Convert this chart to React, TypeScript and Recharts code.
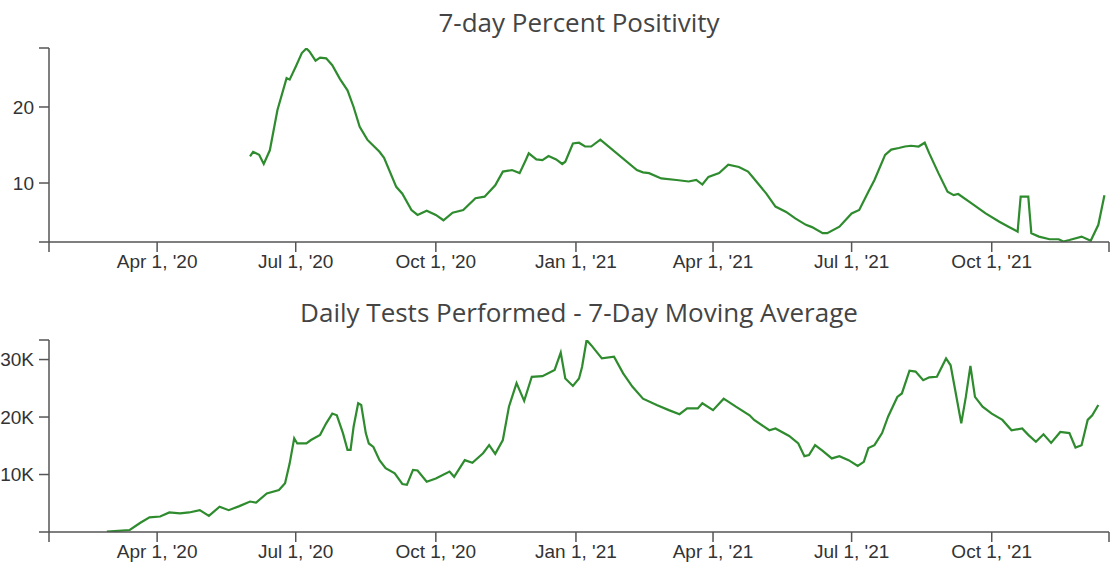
import React from 'react';
import { LineChart, Line, XAxis, YAxis } from 'recharts';

// ---- Data ----
const positivityDates = [
  '2020-06-01','2020-06-03','2020-06-07','2020-06-10','2020-06-14','2020-06-19','2020-06-25','2020-06-27',
  '2020-07-01','2020-07-05','2020-07-08','2020-07-10','2020-07-14','2020-07-17','2020-07-21','2020-07-25',
  '2020-07-30','2020-08-04','2020-08-08','2020-08-12','2020-08-17','2020-08-19','2020-08-25','2020-08-28',
  '2020-09-05','2020-09-09','2020-09-15','2020-09-19','2020-09-25','2020-10-01','2020-10-06','2020-10-12',
  '2020-10-19','2020-10-27','2020-11-02','2020-11-09','2020-11-14','2020-11-20','2020-11-25','2020-11-29',
  '2020-12-01','2020-12-06','2020-12-10','2020-12-14','2020-12-19','2020-12-23','2020-12-25','2020-12-30',
  '2021-01-03','2021-01-07','2021-01-11','2021-01-17','2021-02-10','2021-02-14','2021-02-18','2021-02-26',
  '2021-03-08','2021-03-16','2021-03-21','2021-03-25','2021-03-29','2021-04-05','2021-04-11','2021-04-18',
  '2021-04-24','2021-04-27','2021-05-06','2021-05-12','2021-05-19','2021-05-25','2021-06-01','2021-06-05',
  '2021-06-12','2021-06-15','2021-06-23','2021-07-01','2021-07-06','2021-07-12','2021-07-16','2021-07-23',
  '2021-07-27','2021-08-01','2021-08-05','2021-08-09','2021-08-14','2021-08-18','2021-08-21','2021-08-27',
  '2021-09-02','2021-09-06','2021-09-09','2021-09-18','2021-09-27','2021-10-06','2021-10-12','2021-10-18',
  '2021-10-20','2021-10-25','2021-10-27','2021-11-01','2021-11-08','2021-11-14','2021-11-17','2021-11-21',
  '2021-11-29','2021-12-05','2021-12-10','2021-12-14',
];
const positivityValues = [
  13.5, 14.1, 13.7, 12.5, 14.3, 19.6, 23.8, 23.6,
  25.3, 27.1, 27.7, 27.3, 26.1, 26.5, 26.4, 25.5,
  23.7, 22.2, 20.0, 17.4, 15.7, 15.3, 14.1, 13.3,
  9.5, 8.6, 6.45, 5.8, 6.35, 5.8, 5.1, 6.1,
  6.45, 8.0, 8.2, 9.7, 11.5, 11.7, 11.3, 13.0,
  13.9, 13.1, 13.0, 13.55, 13.1, 12.5, 12.8, 15.2,
  15.3, 14.8, 14.8, 15.7, 11.7, 11.4, 11.3, 10.6,
  10.4, 10.2, 10.4, 9.8, 10.8, 11.3, 12.4, 12.1,
  11.5, 10.8, 8.6, 6.9, 6.2, 5.35, 4.5, 4.2,
  3.4, 3.4, 4.25, 6.0, 6.45, 8.85, 10.4, 13.7,
  14.4, 14.6, 14.8, 14.9, 14.8, 15.3, 13.9, 11.3,
  8.85, 8.4, 8.55, 7.3, 6.0, 4.9, 4.25, 3.6,
  8.2, 8.2, 3.4, 2.95, 2.6, 2.6, 2.3, 2.5,
  2.95, 2.4, 4.5, 8.4,
];

const testDates = [
  '2020-02-28','2020-03-14','2020-03-21','2020-03-27','2020-04-03','2020-04-09','2020-04-16','2020-04-22',
  '2020-04-29','2020-05-05','2020-05-12','2020-05-18','2020-05-25','2020-06-01','2020-06-05','2020-06-12',
  '2020-06-20','2020-06-24','2020-06-27','2020-06-30','2020-07-02','2020-07-08','2020-07-11','2020-07-17',
  '2020-07-21','2020-07-25','2020-07-28','2020-08-01','2020-08-04','2020-08-06','2020-08-08','2020-08-11',
  '2020-08-13','2020-08-16','2020-08-18','2020-08-21','2020-08-25','2020-08-29','2020-09-04','2020-09-09',
  '2020-09-12','2020-09-16','2020-09-19','2020-09-25','2020-10-01','2020-10-10','2020-10-13','2020-10-20',
  '2020-10-25','2020-11-01','2020-11-05','2020-11-09','2020-11-14','2020-11-18','2020-11-23','2020-11-28',
  '2020-12-03','2020-12-10','2020-12-18','2020-12-22','2020-12-25','2020-12-30','2021-01-03','2021-01-05',
  '2021-01-08','2021-01-11','2021-01-18','2021-01-26','2021-02-01','2021-02-07','2021-02-14','2021-02-23',
  '2021-03-03','2021-03-10','2021-03-15','2021-03-22','2021-03-25','2021-04-01','2021-04-08','2021-04-16',
  '2021-04-25','2021-04-28','2021-05-08','2021-05-12','2021-05-21','2021-05-27','2021-05-31','2021-06-03',
  '2021-06-07','2021-06-12','2021-06-18','2021-06-23','2021-06-29','2021-07-05','2021-07-09','2021-07-12',
  '2021-07-16','2021-07-21','2021-07-25','2021-07-31','2021-08-03','2021-08-08','2021-08-12','2021-08-17',
  '2021-08-21','2021-08-26','2021-09-01','2021-09-04','2021-09-07','2021-09-11','2021-09-14','2021-09-17',
  '2021-09-20','2021-09-25','2021-10-01','2021-10-08','2021-10-14','2021-10-21','2021-10-25','2021-10-30',
  '2021-11-04','2021-11-09','2021-11-15','2021-11-21','2021-11-25','2021-11-29','2021-12-03','2021-12-06',
  '2021-12-10',
];
const testValues = [
  50, 350, 1600, 2550, 2700, 3400, 3250, 3400,
  3800, 2800, 4400, 3800, 4500, 5300, 5100, 6700,
  7300, 8500, 11900, 16300, 15400, 15400, 16000, 16900,
  18900, 20600, 20300, 17200, 14300, 14300, 18300, 22400,
  22100, 17200, 15400, 14800, 12500, 11100, 10200, 8350,
  8200, 10800, 10700, 8750, 9300, 10500, 9600, 12500,
  12050, 13700, 15100, 13600, 16000, 21800, 25900, 22800,
  27000, 27100, 28200, 31200, 26700, 25400, 26700, 28700,
  33400, 32500, 30200, 30500, 27600, 25300, 23200, 22100,
  21200, 20500, 21500, 21500, 22400, 21200, 23200, 21800,
  20300, 19500, 17700, 18000, 16700, 15400, 13200, 13400,
  15100, 14100, 12800, 13200, 12500, 11500, 12200, 14600,
  15100, 17200, 20100, 23500, 24100, 28050, 27900, 26400,
  26900, 27000, 30200, 29000, 24700, 18900, 23500, 28900,
  23500, 21800, 20600, 19500, 17700, 18000, 16900, 15700,
  17000, 15500, 17400, 17200, 14700, 15100, 19500, 20300,
  22100,
];

const xTickDates = ['2020-04-01','2020-07-01','2020-10-01','2021-01-01','2021-04-01','2021-07-01','2021-10-01'];
const xTickLabels = ["Apr 1, '20","Jul 1, '20","Oct 1, '20","Jan 1, '21","Apr 1, '21","Jul 1, '21","Oct 1, '21"];
const xDomainDates = ['2020-01-21', '2021-12-17'];

const positivityTicks = [10, 20];
const positivityDomain = [2.24, 27.76];
const testTicks = [10000, 20000, 30000];
const testTickLabels = ['10K', '20K', '30K'];
const testDomain = [0, 33400];

const titles = ['7-day Percent Positivity', 'Daily Tests Performed - 7-Day Moving Average'];

// ---- helpers ----
const toT = (s: string) => {
  const [y, m, d] = s.split('-').map(Number);
  return Date.UTC(y, m - 1, d);
};

const positivityData = positivityDates.map((d, i) => ({ t: toT(d), v: positivityValues[i] }));
const testData = testDates.map((d, i) => ({ t: toT(d), v: testValues[i] }));
const xDomain = xDomainDates.map(toT);
const xTicks = [xDomain[0], ...xTickDates.map(toT), xDomain[1]];
const xLabel = (t: number) => {
  const idx = xTickDates.map(toT).indexOf(t);
  return idx >= 0 ? xTickLabels[idx] : '';
};

const AXIS_COLOR = '#555';
const LINE_COLOR = '#2e8b2e';
const tickStyle = { fill: '#333', fontSize: 19, fontFamily: '"Liberation Sans", Arial, sans-serif' };
const axisLine = { stroke: AXIS_COLOR, strokeWidth: 1.5 };

export default function App() {
  return (
    <div style={{ position: 'absolute', left: 0, top: 0, width: 1118, height: 569, background: '#fff' }}>
      <div style={{ position: 'absolute', left: 0, top: 0 }}>
        <LineChart width={1118} height={290} data={positivityData} margin={{ top: 48, right: 9, left: 0, bottom: 8 }}>
          <XAxis
            dataKey="t"
            type="number"
            domain={xDomain}
            ticks={xTicks}
            interval={0}
            tickFormatter={xLabel}
            tick={tickStyle}
            tickSize={10}
            tickMargin={3}
            axisLine={axisLine}
            tickLine={axisLine}
            height={40}
            allowDataOverflow
          />
          <YAxis
            type="number"
            domain={positivityDomain}
            ticks={[positivityDomain[0], ...positivityTicks, positivityDomain[1]]}
            interval={0}
            tickFormatter={(v: number) => (positivityTicks.includes(v) ? String(v) : '')}
            tick={tickStyle}
            tickSize={10}
            tickMargin={5}
            axisLine={axisLine}
            tickLine={axisLine}
            width={49}
            allowDataOverflow
          />
          <Line dataKey="v" type="linear" stroke={LINE_COLOR} strokeWidth={2.2} dot={false} isAnimationActive={false} />
        </LineChart>
      </div>
      <div style={{ position: 'absolute', left: 0, top: 290 }}>
        <LineChart width={1118} height={279} data={testData} margin={{ top: 50, right: 9, left: 0, bottom: 6 }}>
          <XAxis
            dataKey="t"
            type="number"
            domain={xDomain}
            ticks={xTicks}
            interval={0}
            tickFormatter={xLabel}
            tick={tickStyle}
            tickSize={10}
            tickMargin={3}
            axisLine={axisLine}
            tickLine={axisLine}
            height={31}
            allowDataOverflow
          />
          <YAxis
            type="number"
            domain={testDomain}
            ticks={[testDomain[0], ...testTicks, testDomain[1]]}
            interval={0}
            tickFormatter={(v: number) => {
              const i = testTicks.indexOf(v);
              return i >= 0 ? testTickLabels[i] : '';
            }}
            tick={tickStyle}
            tickSize={10}
            tickMargin={5}
            axisLine={axisLine}
            tickLine={axisLine}
            width={49}
            allowDataOverflow
          />
          <Line dataKey="v" type="linear" stroke={LINE_COLOR} strokeWidth={2.2} dot={false} isAnimationActive={false} />
        </LineChart>
      </div>
      <svg width={1118} height={569} style={{ position: 'absolute', left: 0, top: 0, pointerEvents: 'none' }}>
        <text x={579} y={32} textAnchor="middle" fill="#444" fontSize={26} fontFamily='"Open Sans", sans-serif'>
          {titles[0]}
        </text>
        <text x={579} y={322} textAnchor="middle" fill="#444" fontSize={26} fontFamily='"Open Sans", sans-serif'>
          {titles[1]}
        </text>
      </svg>
    </div>
  );
}
